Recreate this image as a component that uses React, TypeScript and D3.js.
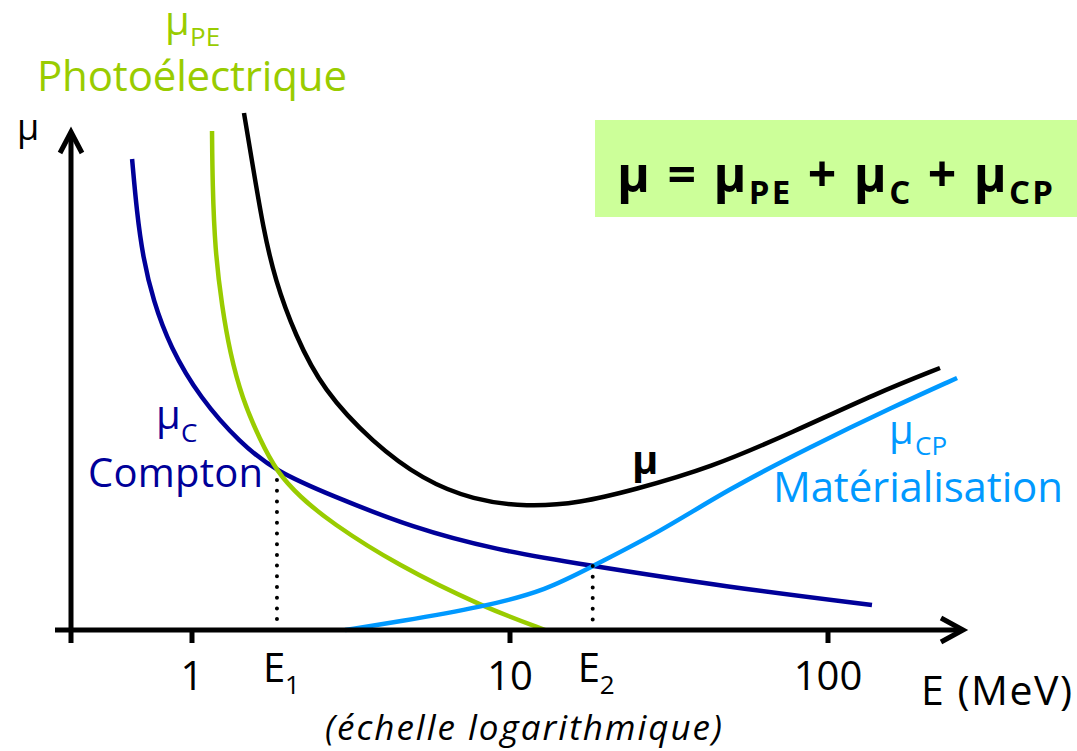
import React from "react";
import * as d3 from "d3";

// ---- Data (energy in MeV, attenuation in arbitrary units) ----
const comptonE = [0.648, 0.671, 0.701, 0.754, 0.853, 1.06, 1.416, 1.85, 2.72, 4.95, 9.1, 16.6, 48.1, 137.5];
const comptonMu = [94.2, 83.4, 74.6, 66.0, 56.6, 46.4, 37.4, 31.6, 27.0, 20.4, 16.0, 13.2, 8.6, 5.0];

const photoE = [1.156, 1.16, 1.181, 1.243, 1.317, 1.436, 1.636, 1.85, 2.186, 2.72, 4.41, 8.23, 12.9];
const photoMu = [99.8, 89.4, 76.0, 64.6, 55.4, 46.4, 38.0, 31.6, 26.6, 21.6, 13.0, 4.6, 0];

const totalE = [1.457, 1.555, 1.672, 1.824, 2.11, 2.58, 3.71, 5.33, 7.65, 11.3, 16.6, 24.4, 42.6, 77.7, 142.6, 225];
const totalMu = [103.4, 92.6, 80.6, 70.0, 59.0, 48.0, 37.4, 30.0, 26.0, 24.6, 25.4, 28.0, 32.4, 39.6, 47.4, 52.4];

const pairE = [3.03, 4.41, 8.23, 13.1, 18.2, 29.6, 48.1, 87.8, 160, 254.6];
const pairMu = [0, 1.6, 4.6, 8.0, 12.8, 19.6, 28.0, 36.6, 44.6, 50.4];

const tickValues = [1, 10, 100];
const tickLabels = ["1", "10", "100"];

const E1 = 1.85;
const E1Mu = 31.6;
const E2 = 18.2;
const E2Mu = 12.8;

const W = 1077;
const H = 751;
const FONT = "'Open Sans', 'Noto Sans', sans-serif";

const x = d3.scaleLog().domain([1, 100]).range([192, 828]);
const y = d3.scaleLinear().domain([0, 100]).range([630, 130]);

const line = d3
  .line<[number, number]>()
  .x((d) => x(d[0]))
  .y((d) => y(d[1]))
  .curve(d3.curveBasis);

const zip = (a: number[], b: number[]) => a.map((v, i) => [v, b[i]] as [number, number]);

export default function App() {
  const axisY = y(0);
  const axisX = 71;
  const xEnd = 963;
  const yTop = 132;
  return (
    <svg
      width={W}
      height={H}
      viewBox={`0 0 ${W} ${H}`}
      style={{ position: "absolute", left: 0, top: 0, background: "#fff" }}
      fontFamily={FONT}
    >
      {/* formula box */}
      <rect x={595} y={120} width={482} height={97} fill="#ccff99" />
      <text x={617} y={192} fontSize={50} fontWeight={700} fill="#000" textLength={436} lengthAdjust="spacing">
        μ = μ
        <tspan fontSize={33} dy={12}>PE</tspan>
        <tspan dy={-12}> + μ</tspan>
        <tspan fontSize={33} dy={12}>C</tspan>
        <tspan dy={-12}> + μ</tspan>
        <tspan fontSize={33} dy={12}>CP</tspan>
      </text>

      {/* curves */}
      <path d={line(zip(comptonE, comptonMu)) ?? ""} fill="none" stroke="#000099" strokeWidth={4.5} />
      <path d={line(zip(photoE, photoMu)) ?? ""} fill="none" stroke="#99cc00" strokeWidth={4.5} />
      <path d={line(zip(pairE, pairMu)) ?? ""} fill="none" stroke="#0099ff" strokeWidth={4.5} />
      <path d={line(zip(totalE, totalMu)) ?? ""} fill="none" stroke="#000" strokeWidth={4.5} />

      {/* dotted guides */}
      <line x1={x(E1)} x2={x(E1)} y1={y(E1Mu) + 8} y2={axisY - 8} stroke="#000" strokeWidth={4} strokeLinecap="round" strokeDasharray="0 10.7" />
      <line x1={x(E2)} x2={x(E2)} y1={y(E2Mu)} y2={axisY - 8} stroke="#000" strokeWidth={4} strokeLinecap="round" strokeDasharray="0 10.7" />

      {/* axes */}
      <line x1={55} x2={xEnd} y1={axisY} y2={axisY} stroke="#000" strokeWidth={5} />
      <polyline points={`${xEnd - 22},${axisY - 12} ${xEnd},${axisY} ${xEnd - 22},${axisY + 12}`} fill="none" stroke="#000" strokeWidth={5} strokeLinejoin="miter" />
      <line x1={axisX} x2={axisX} y1={axisY + 13} y2={yTop} stroke="#000" strokeWidth={5} />
      <polyline points={`${axisX - 11},${yTop + 21} ${axisX},${yTop} ${axisX + 11},${yTop + 21}`} fill="none" stroke="#000" strokeWidth={5} strokeLinejoin="miter" />
      {tickValues.map((t, i) => (
        <g key={t}>
          <line x1={x(t)} x2={x(t)} y1={axisY} y2={axisY + 13} stroke="#000" strokeWidth={5} />
          <text x={x(t)} y={690} fontSize={40} textAnchor="middle" fill="#000">
            {tickLabels[i]}
          </text>
        </g>
      ))}

      {/* E1 / E2 labels */}
      <text x={x(E1) - 14} y={682} fontSize={40} fill="#000">E</text>
      <text x={x(E1) + 8} y={694} fontSize={26} fill="#000">1</text>
      <text x={x(E2) - 15} y={682} fontSize={40} fill="#000">E</text>
      <text x={x(E2) + 7} y={694} fontSize={26} fill="#000">2</text>
      <text x={921} y={705} fontSize={41} fill="#000" textLength={151} lengthAdjust="spacing">E (MeV)</text>
      <text x={325} y={740} fontSize={35} fontStyle="italic" fill="#000" textLength={397} lengthAdjust="spacing">(échelle logarithmique)</text>

      {/* y label */}
      <text x={17} y={140} fontSize={36} fill="#000">μ</text>

      {/* series labels */}
      <text x={165} y={35} fontSize={40} fill="#99cc00">μ</text>
      <text x={190} y={46} fontSize={26} fill="#99cc00">PE</text>
      <text x={37} y={91} fontSize={42} fill="#99cc00" textLength={310} lengthAdjust="spacing">Photoélectrique</text>

      <text x={156} y={429} fontSize={40} fill="#000099">μ</text>
      <text x={181} y={442} fontSize={26} fill="#000099">C</text>
      <text x={88} y={487} fontSize={40} fill="#000099" textLength={175} lengthAdjust="spacing">Compton</text>

      <text x={889} y={444} fontSize={40} fill="#0099ff">μ</text>
      <text x={915} y={455} fontSize={26} fill="#0099ff">CP</text>
      <text x={773} y={502} fontSize={42} fill="#0099ff" textLength={290} lengthAdjust="spacing">Matérialisation</text>

      <text x={632} y={474} fontSize={40} fontWeight={700} fill="#000">μ</text>
    </svg>
  );
}
